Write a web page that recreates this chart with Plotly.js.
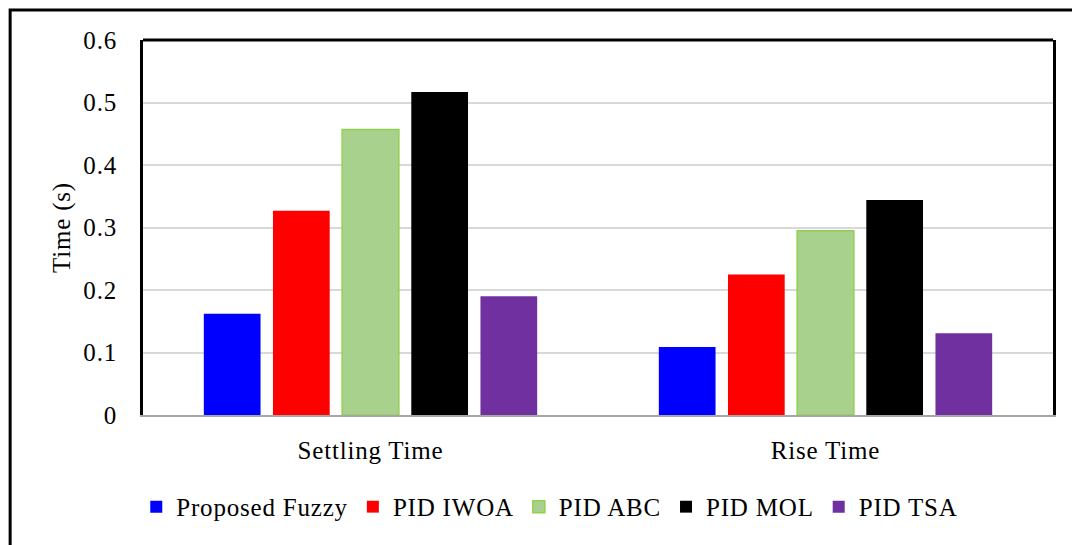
<!DOCTYPE html>
<html>
<head>
<meta charset="utf-8">
<script src="https://cdn.plot.ly/plotly-3.0.1.min.js"></script>
<style>html,body{margin:0;padding:0;background:#fff;}#chart{width:1072px;height:545px;}
svg text{letter-spacing:0.8px;}</style>
</head>
<body>
<div id="chart"></div>
<script>
const categories = ["Settling Time", "Rise Time"];
const seriesNames = ["Proposed Fuzzy", "PID IWOA", "PID ABC", "PID MOL", "PID TSA"];
const proposedFuzzy = [0.162, 0.109];
const pidIWOA = [0.327, 0.225];
const pidABC = [0.457, 0.295];
const pidMOL = [0.517, 0.344];
const pidTSA = [0.190, 0.131];
const yTicks = [0, 0.1, 0.2, 0.3, 0.4, 0.5, 0.6];
const yTickLabels = ["0", "0.1", "0.2", "0.3", "0.4", "0.5", "0.6"];

const FONT = "'Palatino Linotype', 'Book Antiqua', Palatino, 'Liberation Serif', 'Times New Roman', serif";
const FS = 25;
const colors = ["#0000ff", "#ff0000", "#a9d18e", "#000000", "#7030a0"];
const lineColors = ["#0000ff", "#ff0000", "#92d050", "#000000", "#7030a0"];
const lineWidths = [0, 0, 1.5, 0, 0];
const values = [proposedFuzzy, pidIWOA, pidABC, pidMOL, pidTSA];

const traces = seriesNames.map((name, i) => ({
  type: "bar",
  name: name,
  x: categories,
  y: values[i],
  marker: {color: colors[i], line: {color: lineColors[i], width: lineWidths[i]}}
}));

const layout = {
  width: 1072, height: 545,
  margin: {l: 143, r: 19, t: 40, b: 130},
  paper_bgcolor: "#ffffff", plot_bgcolor: "#ffffff",
  font: {family: FONT, size: FS, color: "#000000"},
  barmode: "group",
  bargap: 0.24,
  bargroupgap: 0.18,
  showlegend: true,
  legend: {orientation: "h", x: 0.447, xanchor: "center", y: -0.245, yanchor: "middle",
           font: {family: FONT, size: FS, color: "#000"}, itemwidth: 30, traceorder: "normal"},
  xaxis: {
    showgrid: false, zeroline: false,
    showline: true, linecolor: "#a6a6a6", linewidth: 2,
    ticks: "outside", ticklen: 12, tickcolor: "rgba(0,0,0,0)",
    tickfont: {family: FONT, size: FS, color: "#000"}
  },
  yaxis: {
    range: [0, 0.6],
    tickvals: yTicks, ticktext: yTickLabels,
    showgrid: true, gridcolor: "#d9d9d9", gridwidth: 2,
    zeroline: false,
    showline: true, linecolor: "#000000", linewidth: 3, mirror: true,
    ticks: "outside", ticklen: 18, tickcolor: "rgba(0,0,0,0)",
    tickfont: {family: FONT, size: FS, color: "#000"},
    title: {text: "Time (s)", font: {family: FONT, size: FS, color: "#000"}, standoff: 6}
  },
  shapes: [
    {type: "line", xref: "paper", yref: "paper", x0: 0, x1: 1, y0: 1, y1: 1,
     line: {color: "#000", width: 3}},
    {type: "rect", xref: "paper", yref: "paper", x0: -0.146, x1: 1.1, y0: -0.6, y1: 1.08,
     line: {color: "#000", width: 3}, fillcolor: "rgba(0,0,0,0)", layer: "below"}
  ]
};

Plotly.newPlot("chart", traces, layout, {displayModeBar: false, staticPlot: true});
</script>
</body>
</html>
